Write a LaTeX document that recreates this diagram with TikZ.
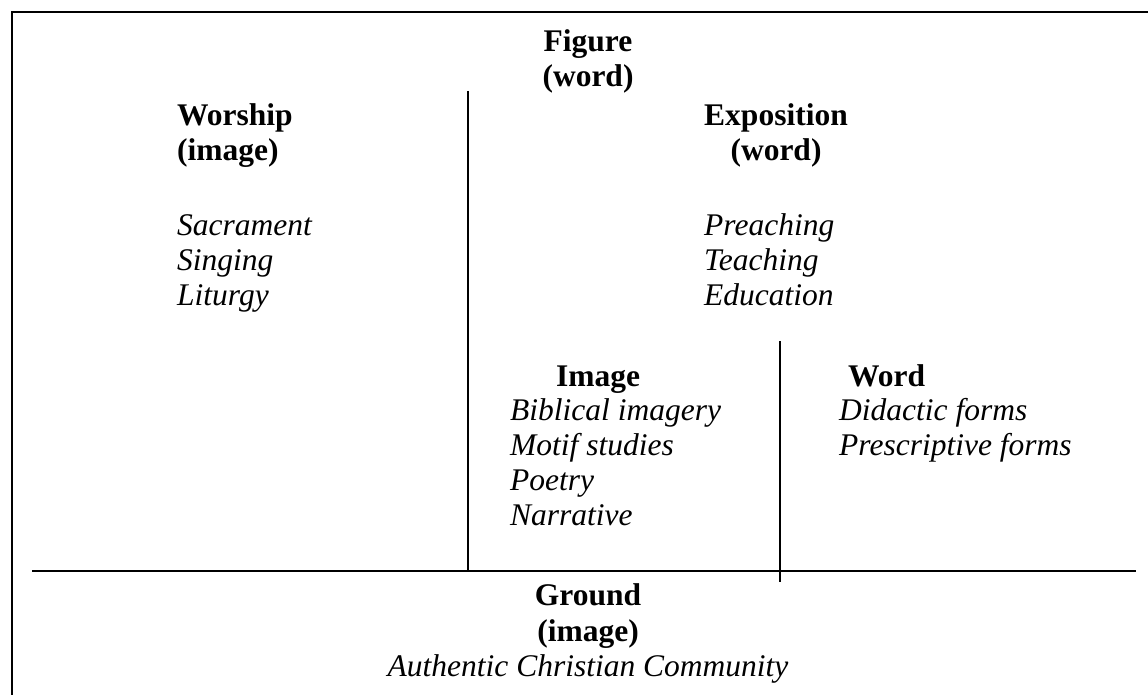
\documentclass[tikz,border=0pt]{standalone}
\usepackage{fontspec}
\setmainfont{Liberation Serif}
\begin{document}
\begin{tikzpicture}[x=1pt,y=-1pt,
  hd/.style={inner sep=0pt, font=\fontsize{31.5}{35}\selectfont\bfseries},
  it/.style={inner sep=0pt, font=\fontsize{31.5}{35}\selectfont\itshape},
  rule/.style={line width=2pt, line cap=butt}]
\useasboundingbox (0,0) rectangle (1148,695);

% frame (left and top edges only)
\coordinate (frameBL) at (12,696);
\coordinate (frameTL) at (12,12);
\coordinate (frameTR) at (1149,12);
\draw[rule, line join=miter] (frameBL) -- (frameTL) -- (frameTR);

% dividing rules
\coordinate (figTop) at (468,91);
\coordinate (figBot) at (468,571);
\coordinate (subTop) at (780,341);
\coordinate (subBot) at (780,582);
\coordinate (gndL) at (32,571);
\coordinate (gndR) at (1136,571);
\draw[rule] (figTop) -- (figBot);
\draw[rule] (subTop) -- (subBot);
\draw[rule] (gndL) -- (gndR);

% Figure
\node[hd, anchor=base] (figure) at (588,52) {Figure};
\node[hd, anchor=base] (figureword) at (588,87) {(word)};

% Worship column
\node[hd, anchor=base west] (worship) at (177,126) {Worship};
\node[hd, anchor=base west] (worshipimg) at (177,161) {(image)};
\node[it, anchor=base west] (sacrament) at (177,235) {Sacrament};
\node[it, anchor=base west] (singing) at (177,270) {Singing};
\node[it, anchor=base west] (liturgy) at (177,305) {Liturgy};

% Exposition column
\node[hd, anchor=base] (exposition) at (776,126) {Exposition};
\node[hd, anchor=base] (expword) at (776,161) {(word)};
\node[it, anchor=base west] (preaching) at (704,235) {Preaching};
\node[it, anchor=base west] (teaching) at (704,270) {Teaching};
\node[it, anchor=base west] (education) at (704,305) {Education};

% Image sub-column
\node[hd, anchor=base west] (image) at (556,386) {Image};
\node[it, anchor=base west] (biblical) at (510,420) {Biblical imagery};
\node[it, anchor=base west] (motif) at (510,455) {Motif studies};
\node[it, anchor=base west] (poetry) at (510,490) {Poetry};
\node[it, anchor=base west] (narrative) at (510,525) {Narrative};

% Word sub-column
\node[hd, anchor=base west] (word) at (848,386) {Word};
\node[it, anchor=base west] (didactic) at (839,420) {Didactic forms};
\node[it, anchor=base west] (prescriptive) at (839,455) {Prescriptive forms};

% Ground
\node[hd, anchor=base] (ground) at (588,605) {Ground};
\node[hd, anchor=base] (groundimg) at (588,641) {(image)};
\node[it, anchor=base] (community) at (588,676) {Authentic Christian Community};
\end{tikzpicture}
\end{document}
